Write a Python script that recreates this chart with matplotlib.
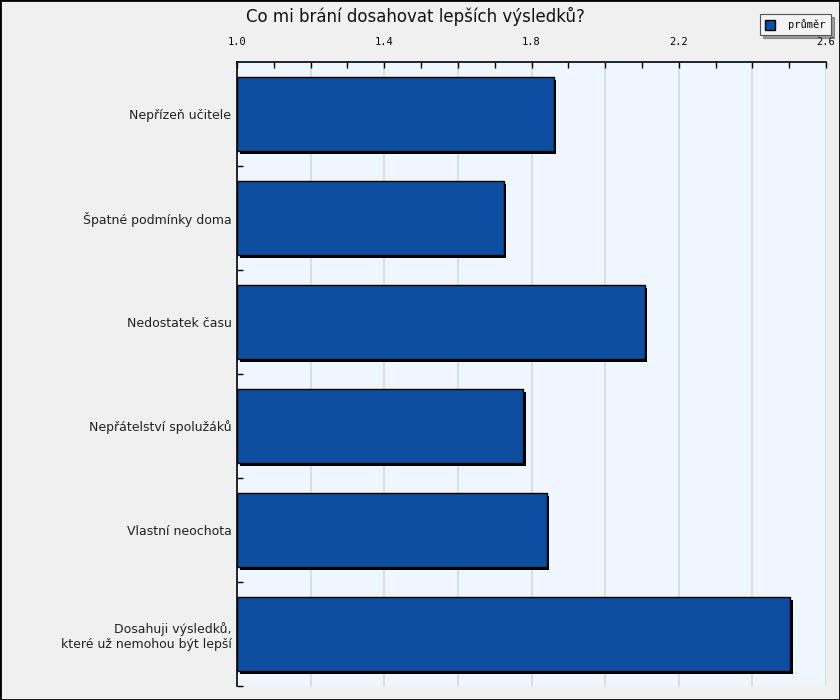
import matplotlib.pyplot as plt
import matplotlib.patheffects as pe
from matplotlib.patches import Patch
from matplotlib.ticker import MultipleLocator

# Data
categories = [
    "Nepřízeň učitele",
    "Špatné podmínky doma",
    "Nedostatek času",
    "Nepřátelství spolužáků",
    "Vlastní neochota",
    "Dosahuji výsledků,\nkteré už nemohou být lepší",
]
values = [1.86, 1.724, 2.107, 1.778, 1.841, 2.502]
series_name = "průměr"

bar_color = "#0d4ea0"
fig = plt.figure(figsize=(8.4, 7), dpi=100, facecolor="#f0f0f0")
ax = fig.add_axes([237 / 840, 14 / 700, 589 / 840, 624 / 700])
ax.set_facecolor("#eef6ff")

pos = list(range(len(categories)))
bars = ax.barh(pos, [v - 1.0 for v in values], left=1.0, height=0.71,
               color=bar_color, edgecolor="black", linewidth=1.0, zorder=3)
for b in bars:
    b.set_path_effects([pe.SimplePatchShadow(offset=(2, -2), shadow_rgbFace="black", alpha=1.0),
                        pe.Normal()])

ax.set_xlim(1.0, 2.6)
ax.set_ylim(len(categories) - 0.5, -0.5)
ax.xaxis.tick_top()
ax.xaxis.set_minor_locator(MultipleLocator(0.1))
ax.set_xticks([1.0, 1.4, 1.8, 2.2, 2.6])
ax.set_xticklabels(["1.0", "1.4", "1.8", "2.2", "2.6"], family="DejaVu Sans Mono", fontsize=7.5)
ax.tick_params(axis="x", which="both", direction="in", length=4, width=1, pad=11)

# gridlines every 0.2
for g in [1.2, 1.4, 1.6, 1.8, 2.0, 2.2, 2.4, 2.6]:
    ax.axvline(g, color="#d9d9d9", linewidth=1.2, zorder=1)

ax.set_yticks(pos)
ax.set_yticklabels(categories, fontsize=9, color="#222222")
ax.tick_params(axis="y", which="major", length=0, pad=4)
ax.set_yticks([p + 0.5 for p in pos], minor=True)
ax.tick_params(axis="y", which="minor", direction="in", length=4, width=1)

for side in ["right", "bottom"]:
    ax.spines[side].set_visible(False)
ax.spines["top"].set_linewidth(1.2)
ax.spines["left"].set_linewidth(1.2)

fig.text(0.494, 0.99, "Co mi brání dosahovat lepších výsledků?", ha="center", va="top",
         fontsize=12, color="#111111")

handle = Patch(facecolor=bar_color, edgecolor="black", linewidth=1)
leg = fig.legend([handle], [series_name], loc="upper right",
                 bbox_to_anchor=(831 / 840, 1 - 14 / 700),
                 prop={"family": "DejaVu Sans Mono", "size": 7.5}, fancybox=False,
                 shadow=True, framealpha=1, edgecolor="#555555", facecolor="#f4f4f4",
                 handlelength=0.9, handleheight=1.1, handletextpad=1.3,
                 borderpad=0.5, borderaxespad=0)
leg.get_frame().set_linewidth(0.8)

# outer border
fig.patches.append(plt.Rectangle((0, 0), 1, 1, transform=fig.transFigure, fill=False,
                                 edgecolor="black", linewidth=2))

fig.savefig("out.png", dpi=100, facecolor=fig.get_facecolor())
